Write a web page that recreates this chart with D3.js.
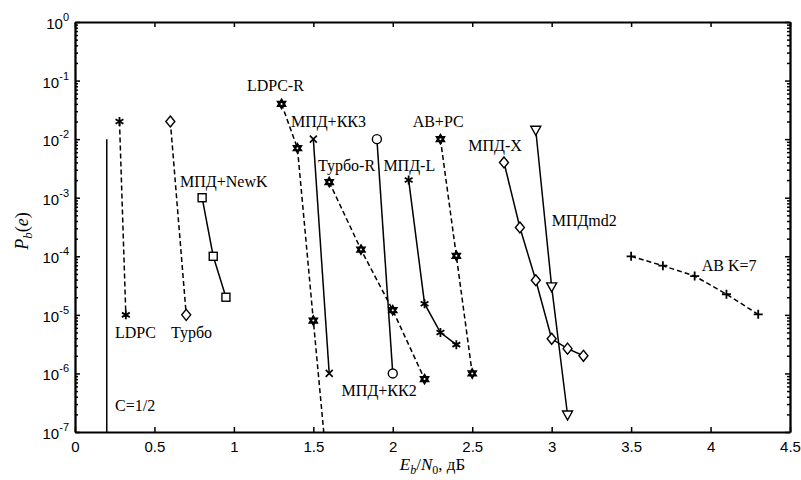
<!DOCTYPE html>
<html>
    <head>
        <meta charset="utf-8" />
        <script src="https://d3js.org/d3.v7.min.js"></script>
        <style>
            body { margin: 0; background: #fff; }
            svg { display: block; }
            .tick text { font-family: 'Liberation Sans', Arial, sans-serif; font-size: 15px; fill: #000; }
            .note { font-family: 'Liberation Serif', 'Times New Roman', serif; font-size: 16px; fill: #000; }
        </style>
    </head>
    <body>
        <svg width="801" height="480"></svg>
        <script>
            // значения (Eb/N0 в дБ, Pb(e))
            const capX = [0.2, 0.2]
            const capY = [1e-2, 1e-7]

            const ldpcX = [0.28, 0.32]
            const ldpcY = [2e-2, 1e-5]

            const turboX = [0.6, 0.7]
            const turboY = [2e-2, 1e-5]

            const newkX = [0.8, 0.87, 0.95]
            const newkY = [1e-3, 1e-4, 2e-5]

            const ldpcRX = [1.3, 1.4, 1.5, 1.6]
            const ldpcRY = [4e-2, 7e-3, 8e-6, 1e-8]

            const kk3X = [1.5, 1.6]
            const kk3Y = [1e-2, 1e-6]

            const turboRX = [1.6, 1.8, 2.0, 2.2]
            const turboRY = [1.85e-3, 1.3e-4, 1.2e-5, 8e-7]

            const kk2X = [1.9, 2.0]
            const kk2Y = [1e-2, 1e-6]

            const mpdLX = [2.1, 2.2, 2.3, 2.4]
            const mpdLY = [2e-3, 1.55e-5, 5e-6, 3.1e-6]

            const abrsX = [2.3, 2.4, 2.5]
            const abrsY = [1e-2, 1.02e-4, 1e-6]

            const mpdXX = [2.7, 2.8, 2.9, 3.0, 3.1, 3.2]
            const mpdXY = [4e-3, 3.1e-4, 3.9e-5, 3.9e-6, 2.65e-6, 2e-6]

            const md2X = [2.9, 3.0, 3.1]
            const md2Y = [1.42e-2, 3e-5, 1.95e-7]

            const abk7X = [3.5, 3.7, 3.9, 4.1, 4.3]
            const abk7Y = [1e-4, 6.9e-5, 4.6e-5, 2.25e-5, 1.02e-5]

            const xTicks = [0, 0.5, 1, 1.5, 2, 2.5, 3, 3.5, 4, 4.5]
            const yExps = [0, -1, -2, -3, -4, -5, -6, -7]

            const series = [
                { x: capX, y: capY, dash: false, mark: null },
                { x: ldpcX, y: ldpcY, dash: true, mark: 'asterisk' },
                { x: turboX, y: turboY, dash: true, mark: 'diamond' },
                { x: newkX, y: newkY, dash: false, mark: 'square' },
                { x: ldpcRX, y: ldpcRY, dash: true, mark: 'hexagram' },
                { x: kk3X, y: kk3Y, dash: false, mark: 'cross' },
                { x: turboRX, y: turboRY, dash: true, mark: 'hexagram' },
                { x: kk2X, y: kk2Y, dash: false, mark: 'circle' },
                { x: mpdLX, y: mpdLY, dash: false, mark: 'asterisk' },
                { x: abrsX, y: abrsY, dash: true, mark: 'hexagram' },
                { x: mpdXX, y: mpdXY, dash: false, mark: 'diamond' },
                { x: md2X, y: md2Y, dash: false, mark: 'triangle' },
                { x: abk7X, y: abk7Y, dash: true, mark: 'plus' },
            ]

            // подписи кривых (в координатах графика)
            const notes = [
                ['LDPC', 0.252, 4.0e-6],
                ['Турбо', 0.604, 4.0e-6],
                ['C=1/2', 0.252, 2.3e-7],
                ['МПД+NewK', 0.661, 1.52e-3],
                ['LDPC-R', 1.082, 6.6e-2],
                ['МПД+КК3', 1.359, 1.63e-2],
                ['Турбо-R', 1.529, 2.86e-3],
                ['МПД-L', 1.941, 2.86e-3],
                ['АВ+РС', 2.125, 1.63e-2],
                ['МПД-X', 2.475, 6.35e-3],
                ['МПДmd2', 3.0, 3.33e-4],
                ['АВ K=7', 3.944, 5.7e-5],
                ['МПД+КК2', 1.678, 4.17e-7],
            ]

            const pl = 75, pr = 790, pt = 22, pb = 432
            const svg = d3.select('svg')

            const x = d3.scaleLinear().domain([0, 4.5]).range([pl, pr])
            const y = d3.scaleLog().domain([1e-7, 1]).range([pb, pt])

            const majors = yExps.map((e) => Math.pow(10, e))
            const minors = []
            for (let e = -7; e < 0; e++) {
                for (let k = 2; k <= 9; k++) minors.push(k * Math.pow(10, e))
            }

            // оси
            svg.append('g')
                .attr('transform', `translate(0,${pb})`)
                .call(d3.axisBottom(x).tickValues(xTicks).tickSize(-5).tickSizeOuter(0).tickPadding(9).tickFormat((d) => String(d)))
            svg.append('g')
                .attr('transform', `translate(0,${pt})`)
                .call(d3.axisTop(x).tickValues(xTicks).tickSize(-5).tickSizeOuter(0).tickFormat(''))

            svg.append('g')
                .attr('transform', `translate(${pl},0)`)
                .call(d3.axisLeft(y).tickValues(majors).tickSize(-5).tickSizeOuter(0).tickFormat(''))
            svg.append('g')
                .attr('transform', `translate(${pl},0)`)
                .call(d3.axisLeft(y).tickValues(minors).tickSize(-3).tickSizeOuter(0).tickFormat(''))
            svg.append('g')
                .attr('transform', `translate(${pr},0)`)
                .call(d3.axisRight(y).tickValues(majors).tickSize(-5).tickSizeOuter(0).tickFormat(''))
            svg.append('g')
                .attr('transform', `translate(${pr},0)`)
                .call(d3.axisRight(y).tickValues(minors).tickSize(-3).tickSizeOuter(0).tickFormat(''))

            svg.selectAll('.domain, .tick line').attr('stroke', '#000').attr('stroke-width', 1.5)
            svg.selectAll('.domain').attr('stroke-width', 1.8)

            const yLab = svg.append('g')
                .selectAll('text')
                .data(yExps)
                .join('text')
                .attr('x', pl - 6)
                .attr('y', (d) => y(Math.pow(10, d)) + 7)
                .attr('text-anchor', 'end')
                .style('font-family', "'Liberation Sans', Arial, sans-serif")
                .style('font-size', '15px')
            yLab.append('tspan').text('10')
            yLab.append('tspan')
                .attr('dy', -8)
                .style('font-size', '11px')
                .text((d) => String(d))

            // кривые
            const clip = svg.append('clipPath').attr('id', 'plot')
            clip.append('rect')
                .attr('x', pl).attr('y', pt)
                .attr('width', pr - pl).attr('height', pb - pt)

            const plot = svg.append('g').attr('clip-path', 'url(#plot)')
            const line = d3.line().x((d) => x(d[0])).y((d) => y(d[1]))

            const hexPath = (() => {
                const r = 5
                const tri = (a0) => d3.range(3).map((i) => {
                    const a = a0 + (i * 2 * Math.PI) / 3
                    return [r * Math.cos(a), r * Math.sin(a)]
                })
                const p1 = tri(-Math.PI / 2), p2 = tri(Math.PI / 2)
                return 'M' + p1.join('L') + 'Z' + 'M' + p2.join('L') + 'Z'
            })()

            function drawMark(g, type, px, py) {
                const m = g.append('g').attr('transform', `translate(${px},${py})`)
                    .attr('stroke', '#000').attr('stroke-width', 1.4).attr('fill', '#fff')
                if (type === 'asterisk') {
                    const r = 4.5
                    m.append('path').attr('d',
                        `M0,${-r}V${r}M${-r * 0.87},${-r / 2}L${r * 0.87},${r / 2}M${-r * 0.87},${r / 2}L${r * 0.87},${-r / 2}`)
                        .attr('stroke-width', 1.8)
                } else if (type === 'diamond') {
                    m.append('path').attr('d', 'M0,-5.5L4.5,0L0,5.5L-4.5,0Z')
                } else if (type === 'square') {
                    m.append('rect').attr('x', -4).attr('y', -4).attr('width', 8).attr('height', 8)
                } else if (type === 'circle') {
                    m.append('circle').attr('r', 4.5)
                } else if (type === 'triangle') {
                    m.append('path').attr('d', 'M-5,-4L5,-4L0,5Z')
                } else if (type === 'hexagram') {
                    m.append('path').attr('d', hexPath).attr('fill', '#000').attr('stroke-width', 1.2)
                    m.append('circle').attr('r', 1).attr('fill', '#fff').attr('stroke', 'none')
                } else if (type === 'plus') {
                    m.append('path').attr('d', 'M-4.5,0H4.5M0,-4.5V4.5').attr('stroke-width', 1.8)
                } else if (type === 'cross') {
                    m.append('path').attr('d', 'M-3.5,-3.5L3.5,3.5M-3.5,3.5L3.5,-3.5').attr('stroke-width', 1.6)
                }
            }

            series.forEach((s) => {
                const pts = s.x.map((v, i) => [v, s.y[i]])
                plot.append('path')
                    .datum(pts)
                    .attr('d', line)
                    .attr('fill', 'none')
                    .attr('stroke', '#000')
                    .attr('stroke-width', 1.5)
                    .attr('stroke-dasharray', s.dash ? '5,3' : null)
                if (s.mark) {
                    pts.forEach((p) => drawMark(plot, s.mark, x(p[0]), y(p[1])))
                }
            })

            svg.append('g')
                .selectAll('text')
                .data(notes)
                .join('text')
                .attr('class', 'note')
                .attr('x', (d) => x(d[1]))
                .attr('y', (d) => y(d[2]))
                .text((d) => d[0])

            // подписи осей
            const xt = svg.append('text')
                .attr('x', (pl + pr) / 2)
                .attr('y', 470)
                .attr('text-anchor', 'middle')
                .style('font-family', "'Liberation Serif', 'Times New Roman', serif")
                .style('font-size', '17px')
            xt.append('tspan').style('font-style', 'italic').text('E')
            xt.append('tspan').style('font-style', 'italic').style('font-size', '12px').attr('dy', 4).text('b')
            xt.append('tspan').attr('dy', -4).text('/')
            xt.append('tspan').style('font-style', 'italic').text('N')
            xt.append('tspan').style('font-size', '12px').attr('dy', 4).text('0')
            xt.append('tspan').attr('dy', -4).text(', дБ')

            const yt = svg.append('text')
                .attr('transform', `translate(28,${(pt + pb) / 2 + 4}) rotate(-90)`)
                .attr('text-anchor', 'middle')
                .style('font-family', "'Liberation Serif', 'Times New Roman', serif")
                .style('font-size', '18px')
            yt.append('tspan').style('font-style', 'italic').text('P')
            yt.append('tspan').style('font-style', 'italic').style('font-size', '13px').attr('dy', 4).text('b')
            yt.append('tspan').attr('dy', -4).text('(')
            yt.append('tspan').style('font-style', 'italic').text('e')
            yt.append('tspan').text(')')
        </script>
    </body>
</html>
